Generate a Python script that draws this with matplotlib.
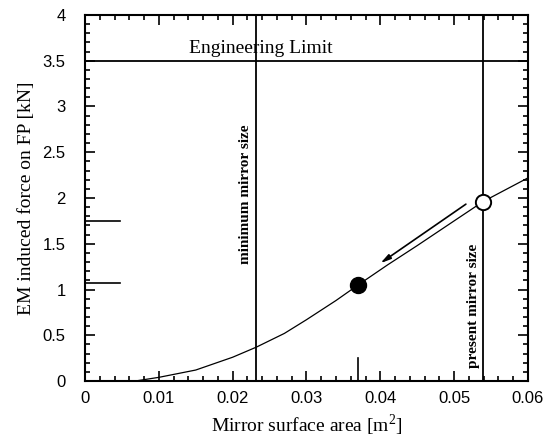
"""EM induced force on the FP versus mirror surface area"""

import matplotlib
matplotlib.use("Agg")
import matplotlib.pyplot as plt
from matplotlib.ticker import MultipleLocator

# Force curve
area = [0.0068, 0.010, 0.015, 0.020, 0.0232, 0.027, 0.030, 0.034,
        0.037, 0.041, 0.045, 0.050, 0.0539, 0.060]
force = [0.0, 0.04, 0.12, 0.26, 0.37, 0.52, 0.67, 0.88,
         1.05, 1.27, 1.48, 1.75, 1.96, 2.22]

# Design points
present_area, present_force = 0.0539, 1.96
target_area, target_force = 0.0370, 1.05

# Reference lines
engineering_limit = 3.5
min_mirror_area = 0.0232

# Left-axis markers for the two force levels
marker_levels = [1.75, 1.07]

SERIF = "Liberation Serif"
SANS = "Liberation Sans"

fig = plt.figure(figsize=(5.46, 4.45), dpi=100)
ax = fig.add_axes([0.1557, 0.1438, 0.8113, 0.8225])

ax.plot(area, force, color="black", lw=0.9)

ax.axhline(engineering_limit, color="black", lw=1.3)
ax.axvline(min_mirror_area, color="black", lw=1.3)
ax.axvline(present_area, color="black", lw=1.3)

for lev in marker_levels:
    ax.plot([0, 0.0048], [lev, lev], color="black", lw=1.2)
ax.plot([target_area, target_area], [0, 0.25], color="black", lw=1.2)

ax.plot(target_area, target_force, "o", color="black", ms=11.5)
ax.plot(present_area, present_force, "o", mfc="white", mec="black",
        mew=1.4, ms=11, zorder=5)

ax.annotate("", xy=(0.0397, 1.27), xytext=(0.0519, 1.95),
            arrowprops=dict(arrowstyle="-|>,head_length=0.6,head_width=0.15",
                            color="black", lw=1.2))

ax.text(0.0238, 3.63, "Engineering Limit", ha="center", va="center",
        family=SERIF, fontsize=14)
ax.text(0.0217, 2.04, "minimum mirror size", rotation=90, ha="center",
        va="center", family=SERIF, fontsize=11, fontweight="bold")
ax.text(0.0526, 0.82, "present mirror size", rotation=90, ha="center",
        va="center", family=SERIF, fontsize=11, fontweight="bold")

ax.set_xlim(0, 0.06)
ax.set_ylim(0, 4)
ax.xaxis.set_major_locator(MultipleLocator(0.01))
ax.xaxis.set_minor_locator(MultipleLocator(0.002))
ax.yaxis.set_major_locator(MultipleLocator(0.5))
ax.yaxis.set_minor_locator(MultipleLocator(0.1))
ax.set_xticks([0, 0.01, 0.02, 0.03, 0.04, 0.05, 0.06])
ax.set_xticklabels(["0", "0.01", "0.02", "0.03", "0.04", "0.05", "0.06"])
ax.set_yticks([0, 0.5, 1, 1.5, 2, 2.5, 3, 3.5, 4])
ax.set_yticklabels(["0", "0.5", "1", "1.5", "2", "2.5", "3", "3.5", "4"])

ax.tick_params(which="both", direction="in", top=True, right=True,
               width=1.2, labelsize=12)
ax.tick_params(which="major", length=7, pad=7)
ax.tick_params(which="minor", length=3.5)
ax.tick_params(axis="y", which="major", pad=14)
for lab in ax.get_xticklabels() + ax.get_yticklabels():
    lab.set_family(SANS)
for sp in ax.spines.values():
    sp.set_linewidth(1.5)

ax.set_xlabel("Mirror surface area [m$^\\mathregular{2}$]", family=SERIF,
              fontsize=14, labelpad=5)
ax.set_ylabel("EM induced force on FP [kN]", family=SERIF, fontsize=14,
              labelpad=5)

fig.savefig("out.png", dpi=100)
